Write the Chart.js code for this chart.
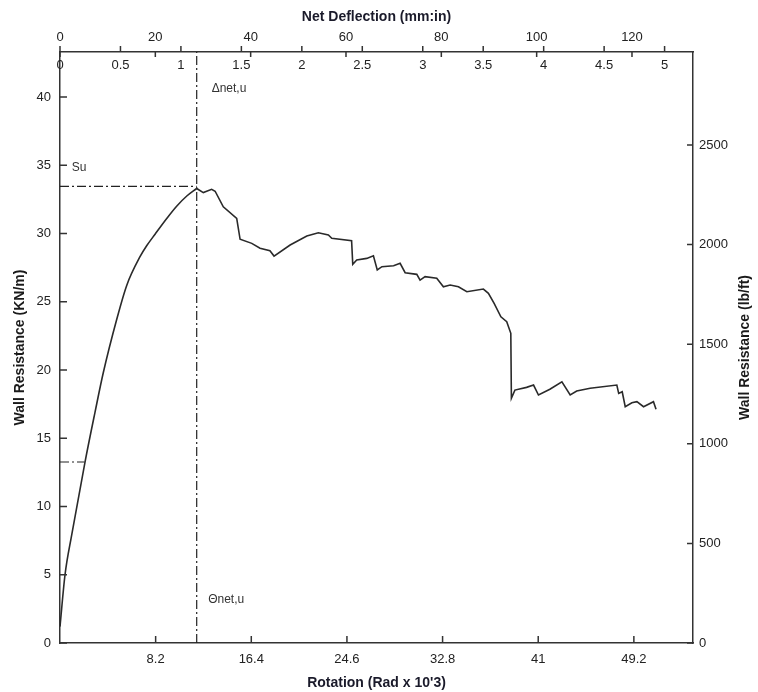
<!DOCTYPE html>
<html><head><meta charset="utf-8">
<script src="https://cdn.jsdelivr.net/npm/chart.js@4.4.1/dist/chart.umd.min.js"></script>
<style>html,body{margin:0;padding:0;background:#fff}#wrap{width:758px;height:692px}</style>
</head><body><div id="wrap"><canvas id="c" width="758" height="692"></canvas></div>
<script>
// ---- data ----
const rotation = [0, 0.43, 1.0, 2.14, 3.0, 3.71, 4.86, 5.72, 6.86, 7.43, 8.15, 9.15, 10.0, 10.87, 11.72, 12.29, 13.0, 13.3, 14.0, 15.15, 15.44, 16.44, 17.15, 18.0, 18.35, 19.73, 21.16, 22.15, 23.01, 23.3, 25.0, 25.1, 25.44, 26.3, 26.87, 27.2, 27.6, 28.6, 29.16, 29.59, 30.59, 30.87, 31.3, 32.3, 32.87, 33.45, 34.16, 34.88, 36.3, 36.73, 37.22, 37.8, 38.3, 38.65, 38.7, 39.0, 40.0, 40.6, 41.02, 42.0, 43.03, 43.74, 44.3, 45.45, 47.74, 47.9, 48.2, 48.46, 49.03, 49.46, 50.03, 50.88, 51.1];
const resistanceKNm = [1.2, 5.0, 7.9, 13.24, 16.9, 19.8, 23.7, 26.2, 28.3, 29.1, 29.95, 31.1, 32.0, 32.75, 33.3, 33.0, 33.24, 33.1, 31.96, 31.11, 29.58, 29.28, 28.92, 28.74, 28.35, 29.16, 29.82, 30.06, 29.89, 29.65, 29.47, 27.74, 28.06, 28.18, 28.37, 27.33, 27.57, 27.64, 27.82, 27.13, 27.01, 26.59, 26.84, 26.72, 26.1, 26.23, 26.1, 25.74, 25.93, 25.62, 24.89, 23.9, 23.54, 22.69, 17.93, 18.53, 18.73, 18.9, 18.17, 18.59, 19.14, 18.17, 18.46, 18.66, 18.9, 18.29, 18.41, 17.31, 17.6, 17.68, 17.31, 17.68, 17.12];
const risingCount = 15; // points 0..14 form the smooth loading branch up to the peak
const rotationTicks = [8.2, 16.4, 24.6, 32.8, 41, 49.2];
const kNmTicks = [0, 5, 10, 15, 20, 25, 30, 35, 40];
const lbftTicks = [0, 500, 1000, 1500, 2000, 2500];
const mmTicks = [0, 20, 40, 60, 80, 100, 120];
const inchTicks = [0, 0.5, 1, 1.5, 2, 2.5, 3, 3.5, 4, 4.5, 5];
const ultimateRotation = [11.72];
const ultimateResistance = [33.45];
const markerResistance = [13.26];
const markerRotationEnd = [2.1];
const rotationMax = 54.27, kNmMax = 43.3, lbftMax = 2967, mmMax = 132.8, inchMax = 5.235;

const FONT = '"Liberation Sans", Arial, sans-serif';
const INK = '#222';

const allPts = rotation.map((r, i) => ({x: r, y: resistanceKNm[i]}));
const risingPts = allPts.slice(0, risingCount);
const postPts = allPts.slice(risingCount - 1);
const vLine = [{x: ultimateRotation[0], y: 0}, {x: ultimateRotation[0], y: kNmMax}];
const hLine = [{x: 0, y: ultimateResistance[0]}, {x: ultimateRotation[0], y: ultimateResistance[0]}];
const mLine = [{x: 0, y: markerResistance[0]}, {x: markerRotationEnd[0], y: markerResistance[0]}];

const fixTicks = arr => s => { s.ticks = arr.map(v => ({value: v})); };
const tickFont = {family: FONT, size: 13};
const titleFont = {family: FONT, size: 14, weight: 'bold'};
const border = {display: true, color: '#333', width: 1.5};

const decor = {
  id: 'decor',
  afterDraw(chart) {
    const ctx = chart.ctx;
    const {x, xTop, xIn, y, yR} = chart.scales;
    const a = chart.chartArea;
    ctx.save();
    ctx.strokeStyle = '#333';
    ctx.lineWidth = 1.5;
    ctx.beginPath();
    inchTicks.forEach(v => { const p = xIn.getPixelForValue(v); ctx.moveTo(p, a.top); ctx.lineTo(p, a.top - 6); });
    mmTicks.forEach(v => { const p = xTop.getPixelForValue(v); ctx.moveTo(p, a.top); ctx.lineTo(p, a.top + 5); });
    rotationTicks.forEach(v => { const p = x.getPixelForValue(v); ctx.moveTo(p, a.bottom); ctx.lineTo(p, a.bottom - 7); });
    kNmTicks.forEach(v => { const p = y.getPixelForValue(v); ctx.moveTo(a.left, p); ctx.lineTo(a.left + 7, p); });
    lbftTicks.forEach(v => { const p = yR.getPixelForValue(v); ctx.moveTo(a.right, p); ctx.lineTo(a.right - 6, p); });
    ctx.stroke();
    // inch labels inside the plot
    ctx.fillStyle = INK;
    ctx.font = '13px ' + FONT;
    ctx.textAlign = 'center';
    ctx.textBaseline = 'middle';
    inchTicks.forEach(v => { ctx.fillText(String(v), xIn.getPixelForValue(v), a.top + 13); });
    // y titles
    ctx.font = 'bold 14px ' + FONT;
    ctx.fillStyle = '#1a1a1a';
    [[20, 'Wall Resistance (KN/m)'], [745, 'Wall Resistance (lb/ft)']].forEach(([tx, t]) => {
      ctx.save();
      ctx.translate(tx, (a.top + a.bottom) / 2);
      ctx.rotate(-Math.PI / 2);
      ctx.fillText(t, 0, 0);
      ctx.restore();
    });
    // annotations
    ctx.font = '12px ' + FONT;
    ctx.fillStyle = '#333';
    ctx.textAlign = 'left';
    ctx.fillText('Su', x.getPixelForValue(1.0), y.getPixelForValue(34.8));
    ctx.fillText('\u0394net,u', x.getPixelForValue(13.0), y.getPixelForValue(40.6));
    ctx.fillText('\u0398net,u', x.getPixelForValue(12.7), y.getPixelForValue(3.15));
    ctx.restore();
  }
};

const dash = {borderColor: '#222', borderWidth: 1.2, borderDash: [9, 3, 2, 3], pointRadius: 0, tension: 0, fill: false};
const curve = {borderColor: '#2a2a2a', borderWidth: 1.6, pointRadius: 0, fill: false, xAxisID: 'x', yAxisID: 'y'};

new Chart(document.getElementById('c'), {
  type: 'line',
  data: {
    datasets: [
      Object.assign({data: risingPts, cubicInterpolationMode: 'monotone'}, curve),
      Object.assign({data: postPts, tension: 0}, curve),
      Object.assign({data: vLine, xAxisID: 'x', yAxisID: 'y'}, dash),
      Object.assign({data: hLine, xAxisID: 'x', yAxisID: 'y'}, dash),
      Object.assign({data: mLine, xAxisID: 'x', yAxisID: 'y'}, dash)
    ]
  },
  options: {
    responsive: false,
    animation: false,
    devicePixelRatio: 1,
    layout: {padding: 0},
    plugins: {legend: {display: false}, tooltip: {enabled: false}},
    scales: {
      x: {
        type: 'linear', position: 'bottom', min: 0, max: rotationMax,
        afterBuildTicks: fixTicks(rotationTicks),
        afterFit: s => { s.height = 49; },
        grid: {display: false, drawTicks: false},
        border: border,
        ticks: {font: tickFont, color: INK, padding: 9, maxRotation: 0, autoSkip: false, callback: v => String(v)},
        title: {display: true, text: "Rotation (Rad x 10'3)", font: titleFont, color: '#1a1a2a', padding: 0}
      },
      xTop: {
        type: 'linear', position: 'top', min: 0, max: mmMax,
        afterBuildTicks: fixTicks(mmTicks),
        afterFit: s => { s.height = 52; },
        grid: {display: false, drawTicks: false},
        border: border,
        ticks: {font: tickFont, color: INK, padding: 7, maxRotation: 0, autoSkip: false, callback: v => String(v)},
        title: {display: true, text: 'Net Deflection (mm:in)', font: titleFont, color: '#1a1a2a', padding: {top: 9, bottom: 0}}
      },
      xIn: {type: 'linear', position: 'top', min: 0, max: inchMax, display: false},
      y: {
        type: 'linear', position: 'left', min: 0, max: kNmMax,
        afterBuildTicks: fixTicks(kNmTicks),
        afterFit: s => { s.width = 60; },
        grid: {display: false, drawTicks: false},
        border: border,
        ticks: {font: tickFont, color: INK, padding: 9, autoSkip: false, callback: v => String(v)}
      },
      yR: {
        type: 'linear', position: 'right', min: 0, max: lbftMax,
        afterBuildTicks: fixTicks(lbftTicks),
        afterFit: s => { s.width = 65; },
        grid: {display: false, drawTicks: false},
        border: border,
        ticks: {font: tickFont, color: INK, padding: 6, autoSkip: false, callback: v => String(v)}
      }
    }
  },
  plugins: [decor]
});
</script></body></html>
